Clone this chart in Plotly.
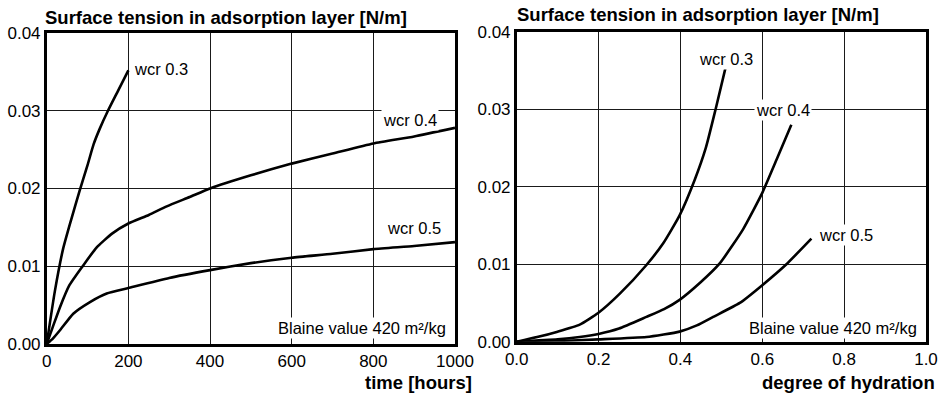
import plotly.graph_objects as go

# Surface tension vs. time (left panel)
time_w03 = [0, 20, 40, 60, 80, 100, 115, 130, 150, 175, 200]
sigma_t_w03 = [0, 0.0068, 0.0122, 0.0160, 0.0196, 0.0230, 0.0257, 0.0277, 0.0300, 0.0326, 0.0352]

time_w04 = [0, 15, 33, 55, 88, 122, 160, 200, 250, 294, 350, 400, 500, 600, 700, 800, 900, 1000]
sigma_t_w04 = [0, 0.0022, 0.0048, 0.0075, 0.0100, 0.0124, 0.0142, 0.0155, 0.0166, 0.0177, 0.0189, 0.0200,
               0.0217, 0.0232, 0.0245, 0.0258, 0.0267, 0.0278]

time_w05 = [0, 15, 33, 65, 106, 147, 200, 300, 400, 500, 600, 700, 800, 900, 1000]
sigma_t_w05 = [0, 0.0007, 0.0018, 0.0039, 0.0054, 0.0065, 0.0072, 0.0085, 0.0095, 0.0104, 0.0111,
               0.0116, 0.0122, 0.0126, 0.0131]

# Surface tension vs. degree of hydration (right panel)
alpha_w03 = [0, 0.05, 0.1, 0.154, 0.199, 0.252, 0.317, 0.358, 0.398, 0.435, 0.462, 0.486, 0.51]
sigma_a_w03 = [0, 0.0006, 0.0013, 0.0022, 0.0037, 0.0062, 0.0099, 0.0127, 0.0163, 0.0209, 0.0250, 0.0300, 0.0353]

alpha_w04 = [0, 0.1, 0.154, 0.2, 0.25, 0.317, 0.36, 0.398, 0.45, 0.496, 0.553, 0.6, 0.635, 0.671]
sigma_a_w04 = [0, 0.0003, 0.0006, 0.0010, 0.0017, 0.0032, 0.0042, 0.0054, 0.0077, 0.0101, 0.0145, 0.0192,
               0.0235, 0.0280]

alpha_w05 = [0, 0.1, 0.2, 0.317, 0.398, 0.44, 0.48, 0.545, 0.6, 0.659, 0.72]
sigma_a_w05 = [0, 0.0001, 0.0003, 0.0006, 0.0013, 0.0021, 0.0032, 0.0050, 0.0073, 0.0100, 0.0133]

y_ticks = [0.00, 0.01, 0.02, 0.03, 0.04]
time_ticks = [0, 200, 400, 600, 800, 1000]
alpha_ticks = [0.0, 0.2, 0.4, 0.6, 0.8, 1.0]

title_text = "Surface tension in adsorption layer [N/m]"
blaine_text = "Blaine value 420 m²/kg"

FONT = "Liberation Sans, Arial, Helvetica, sans-serif"
W, H = 944, 393

fig = go.Figure()

line_style = dict(color="black", width=2.6, shape="spline", smoothing=0.5)
for xs, ys in [(time_w03, sigma_t_w03), (time_w04, sigma_t_w04), (time_w05, sigma_t_w05)]:
    fig.add_trace(go.Scatter(x=xs, y=ys, mode="lines", line=line_style,
                             xaxis="x", yaxis="y", showlegend=False, hoverinfo="skip"))
for xs, ys in [(alpha_w03, sigma_a_w03), (alpha_w04, sigma_a_w04), (alpha_w05, sigma_a_w05)]:
    fig.add_trace(go.Scatter(x=xs, y=ys, mode="lines", line=line_style,
                             xaxis="x2", yaxis="y2", showlegend=False, hoverinfo="skip"))

axis_common = dict(
    showline=True, linecolor="black", linewidth=2.5, mirror=True,
    showgrid=True, gridcolor="#1a1a1a", gridwidth=1,
    zeroline=False, ticks="", automargin=False,
    tickfont=dict(family=FONT, size=17, color="black"),
)

fig.update_layout(
    width=W, height=H,
    margin=dict(l=0, r=0, t=0, b=0),
    paper_bgcolor="white", plot_bgcolor="white",
    font=dict(family=FONT, color="black"),
    xaxis=dict(axis_common, domain=[46.7 / W, 455 / W], range=[0, 1000],
               tickvals=time_ticks, ticktext=[str(v) for v in time_ticks], anchor="y"),
    yaxis=dict(axis_common, domain=[1 - 344 / H, 1 - 33 / H], range=[0, 0.04],
               tickvals=y_ticks, ticktext=[f"{v:.2f}" for v in y_ticks], anchor="x"),
    xaxis2=dict(axis_common, domain=[516.7 / W, 926 / W], range=[0, 1.0],
                tickvals=alpha_ticks, ticktext=[f"{v:.1f}" for v in alpha_ticks], anchor="y2"),
    yaxis2=dict(axis_common, domain=[1 - 341.7 / H, 1 - 31.7 / H], range=[0, 0.04],
                tickvals=y_ticks, ticktext=[f"{v:.2f}" for v in y_ticks], anchor="x2"),
)

label_font = dict(family=FONT, size=16.5, color="black")
bold_font = dict(family=FONT, size=18.5, color="black")

annotations = [
    # curve labels, left panel
    dict(x=210, y=0.0354, xref="x", yref="y", text="wcr 0.3", xanchor="left"),
    dict(x=960, y=0.0288, xref="x", yref="y", text="wcr 0.4", xanchor="right"),
    dict(x=970, y=0.0149, xref="x", yref="y", text="wcr 0.5", xanchor="right"),
    dict(x=984, y=0.0021, xref="x", yref="y", text=blaine_text, xanchor="right"),
    # curve labels, right panel
    dict(x=0.512, y=0.0365, xref="x2", yref="y2", text="wcr 0.3", xanchor="center"),
    dict(x=0.65, y=0.0299, xref="x2", yref="y2", text="wcr 0.4", xanchor="center"),
    dict(x=0.805, y=0.0138, xref="x2", yref="y2", text="wcr 0.5", xanchor="center"),
    dict(x=0.984, y=0.0018, xref="x2", yref="y2", text=blaine_text, xanchor="right"),
]
for a in annotations:
    a.update(showarrow=False, yanchor="middle", font=label_font, bgcolor="white", borderpad=1)

annotations += [
    dict(x=43 / W, y=1 - 17 / H, xref="paper", yref="paper", text=f"<b>{title_text}</b>",
         xanchor="left", yanchor="middle", showarrow=False, font=bold_font),
    dict(x=515 / W, y=1 - 15 / H, xref="paper", yref="paper", text=f"<b>{title_text}</b>",
         xanchor="left", yanchor="middle", showarrow=False, font=bold_font),
    dict(x=474 / W, y=1 - 382 / H, xref="paper", yref="paper", text="<b>time [hours]</b>",
         xanchor="right", yanchor="middle", showarrow=False, font=bold_font),
    dict(x=937 / W, y=1 - 382 / H, xref="paper", yref="paper", text="<b>degree of hydration</b>",
         xanchor="right", yanchor="middle", showarrow=False, font=bold_font),
]
fig.update_layout(annotations=annotations)

fig.write_html("out.html")
